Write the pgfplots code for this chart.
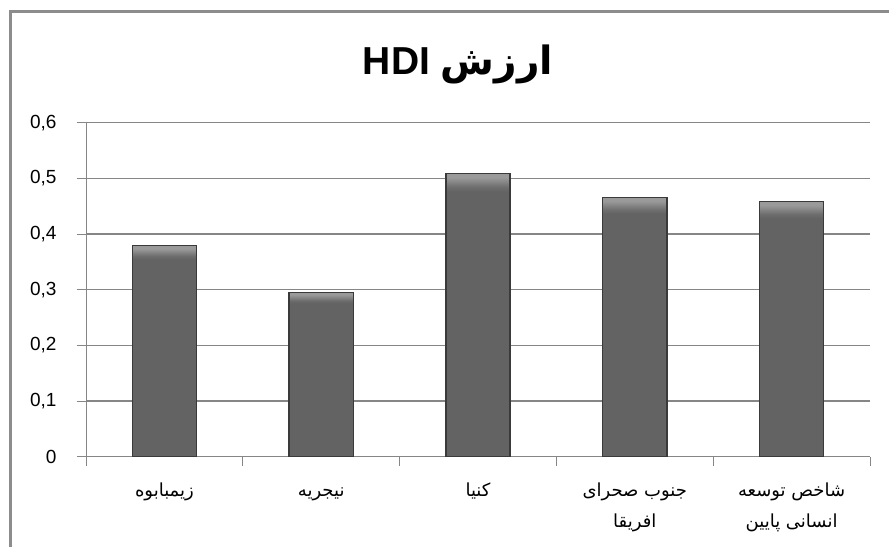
\documentclass[border=0pt]{standalone}
\usepackage{fontspec}
\setmainfont{Liberation Sans}
\newfontfamily\arabicfont[Script=Arabic]{DejaVu Sans}
\TeXXeTstate=1
\usepackage{pgfplots}
\pgfplotsset{compat=1.18}
\definecolor{gridgray}{HTML}{868686}
\definecolor{barfill}{HTML}{636363}
\definecolor{baredge}{HTML}{3A3A3A}
\definecolor{framegray}{HTML}{8C8C8C}
\definecolor{bevA}{HTML}{6E6E6E}
\definecolor{bevB}{HTML}{9A9A9A}
\pgfdeclareverticalshading{barshade}{100bp}{color(0bp)=(barfill); color(71.8bp)=(barfill); color(72.6bp)=(bevA); color(74.3bp)=(bevB); color(100bp)=(bevB)}
\newcommand{\fs}{\rule{0pt}{18bp}}
\pgfplotsset{hdibar/.style={shading=barshade, draw=baredge, line width=1.3bp, bar shift=0pt}}
\begin{document}
\begin{tikzpicture}
\useasboundingbox (0,0) rectangle (889bp,547bp);
\draw[framegray, line width=3bp] (10bp,0) -- (10bp,535bp) -- (889bp,535bp);
\node[font=\bfseries\fontsize{39bp}{44bp}\selectfont, anchor=center] at (458bp,483bp)
  {\beginR{\arabicfont\bfseries ارزش} \beginL HDI\endL\endR};
\begin{axis}[
  at={(86bp,90.3bp)}, anchor=south west,
  scale only axis, width=784bp, height=334bp,
  xmin=-0.5, xmax=4.5, ymin=0, ymax=0.6,
  axis x line=bottom, axis y line=left,
  axis line style={gridgray, line width=1bp, -},
  ytick={0,0.1,0.2,0.3,0.4,0.5,0.6},
  ymajorgrids, grid style={gridgray, line width=1.3bp},
  /pgf/number format/use comma,
  /pgf/number format/fixed,
  /pgf/number format/precision=1,
  /pgf/number format/assume math mode=true,
  ticklabel style={font=\fontsize{19bp}{23bp}\selectfont},
  yticklabel style={xshift=-17bp},
  tick align=outside,
  major tick length=9bp, minor tick length=9bp,
  tick style={gridgray, line width=1bp},
  xtick={0,1,2,3,4},
  x tick style={draw=none},
  minor xtick={-0.5,0.5,1.5,2.5,3.5,4.5},
  minor x tick style={gridgray, line width=1bp, draw},
  xticklabels={
    {\fs\beginR زیمبابوه\endR},
    {\fs\beginR نیجریه\endR},
    {\fs\beginR کنیا\endR},
    {\fs\beginR جنوب صحرای\endR\\\beginR افریقا\endR},
    {\fs\beginR شاخص توسعه\endR\\\beginR انسانی پایین\endR}},
  xticklabel style={font=\arabicfont\fontsize{18bp}{31bp}\selectfont, align=center, anchor=north, yshift=-9bp},
  ybar, bar width=0.41,
  clip=false,
]
\addplot[hdibar] coordinates {(0,0.379)};
\addplot[hdibar] coordinates {(1,0.295)};
\addplot[hdibar] coordinates {(2,0.509)};
\addplot[hdibar] coordinates {(3,0.466)};
\addplot[hdibar] coordinates {(4,0.458)};
\end{axis}
\end{tikzpicture}
\end{document}
